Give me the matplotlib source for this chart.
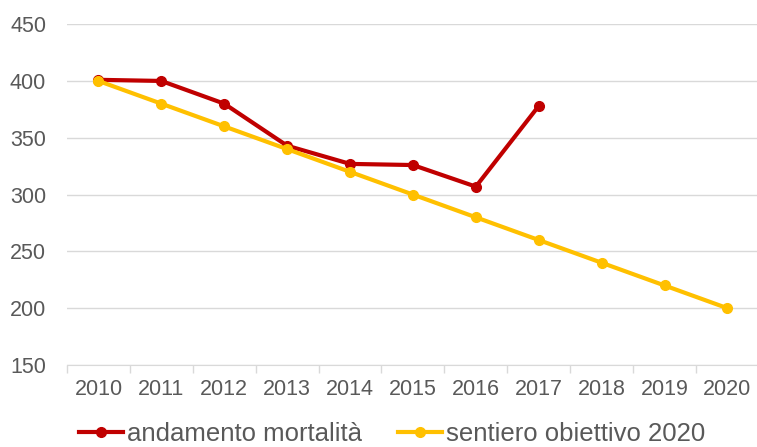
import numpy as np
import matplotlib
matplotlib.use('Agg')
import matplotlib.pyplot as plt

anni = ['2010', '2011', '2012', '2013', '2014', '2015', '2016', '2017', '2018', '2019', '2020']
mortalita = [401, 400, 380, 343, 327, 326, 307, 378]
obiettivo = [400, 380, 360, 340, 320, 300, 280, 260, 240, 220, 200]

plt.rcParams['font.family'] = ['Liberation Sans', 'DejaVu Sans']
grigio = '#595959'

fig = plt.figure(figsize=(7.57, 4.47), dpi=100)
ax = fig.add_axes([0.0885, 0.1834, 0.914, 0.7626])

x = np.arange(len(anni))
ax.plot(x[:len(mortalita)], mortalita, color='#c00000', lw=3, marker='o', ms=7,
        label='andamento mortalità', zorder=3)
ax.plot(x, obiettivo, color='#ffc000', lw=3, marker='o', ms=7,
        label='sentiero obiettivo 2020', zorder=4)

ax.set_xlim(-0.5, len(anni) - 0.5)
ax.set_ylim(150, 450)
ax.set_yticks(np.arange(150, 451, 50))
ax.set_xticks(x)
ax.set_xticklabels(anni)
ax.set_xticks(np.arange(-0.5, len(anni), 1), minor=True)
ax.tick_params(axis='x', which='major', length=0, pad=10, labelsize=15.5, labelcolor=grigio)
ax.tick_params(axis='x', which='minor', length=6, color='#d9d9d9', width=1)
ax.tick_params(axis='y', length=0, pad=15, labelsize=15.5, labelcolor=grigio)
ax.grid(axis='y', color='#d9d9d9', lw=1)
ax.set_axisbelow(True)
for s in ['top', 'right', 'left']:
    ax.spines[s].set_visible(False)
ax.spines['bottom'].set_color('#d9d9d9')

fig.legend(loc='center', bbox_to_anchor=(0.518, 0.03), ncol=2, frameon=False,
           fontsize=18.5, labelcolor=grigio, handlelength=1.7, handletextpad=0.15,
           columnspacing=1.4)

plt.savefig('out.png', dpi=100)
